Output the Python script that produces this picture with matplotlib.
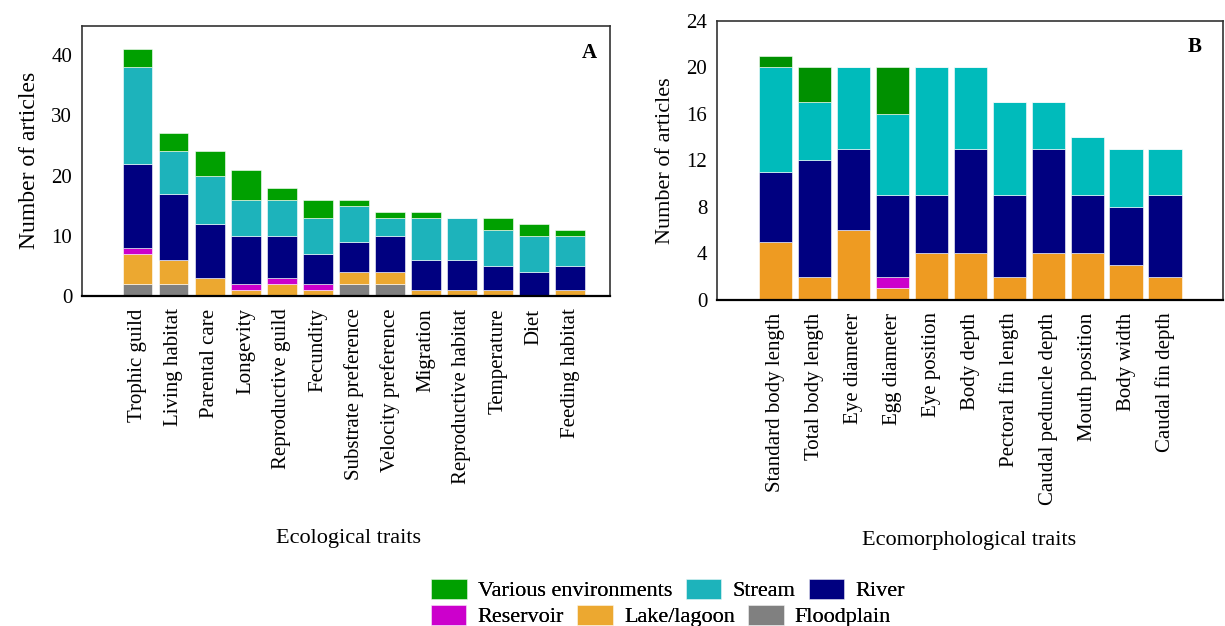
import numpy as np
import matplotlib
matplotlib.use('Agg')
import matplotlib.pyplot as plt
from matplotlib.patches import Patch

plt.rcParams['font.family'] = ['Liberation Serif', 'DejaVu Serif']

# ecological traits (panel A)
traits_a = ['Trophic guild', 'Living habitat', 'Parental care', 'Longevity',
            'Reproductive guild', 'Fecundity', 'Substrate preference',
            'Velocity preference', 'Migration', 'Reproductive habitat',
            'Temperature', 'Diet', 'Feeding habitat']
floodplain_a = [2, 2, 0, 0, 0, 0, 2, 2, 0, 0, 0, 0, 0]
lake_a = [5, 4, 3, 1, 2, 1, 2, 2, 1, 1, 1, 0, 1]
reservoir_a = [1, 0, 0, 1, 1, 1, 0, 0, 0, 0, 0, 0, 0]
river_a = [14, 11, 9, 8, 7, 5, 5, 6, 5, 5, 4, 4, 4]
stream_a = [16, 7, 8, 6, 6, 6, 6, 3, 7, 7, 6, 6, 5]
various_a = [3, 3, 4, 5, 2, 3, 1, 1, 1, 0, 2, 2, 1]

# ecomorphological traits (panel B)
traits_b = ['Standard body length', 'Total body length', 'Eye diameter',
            'Egg diameter', 'Eye position', 'Body depth', 'Pectoral fin length',
            'Caudal peduncle depth', 'Mouth position', 'Body width',
            'Caudal fin depth']
floodplain_b = [0] * 11
lake_b = [5, 2, 6, 1, 4, 4, 2, 4, 4, 3, 2]
reservoir_b = [0, 0, 0, 1, 0, 0, 0, 0, 0, 0, 0]
river_b = [6, 10, 7, 7, 5, 9, 7, 9, 5, 5, 7]
stream_b = [9, 5, 7, 7, 11, 7, 8, 4, 5, 5, 4]
various_b = [1, 3, 0, 4, 0, 0, 0, 0, 0, 0, 0]

envs = ['Floodplain', 'Lake/lagoon', 'Reservoir', 'River', 'Stream', 'Various environments']
cols_a = ['#808080', '#eca830', '#cc00cc', '#000080', '#1db3bb', '#00a000']
cols_b = ['#808080', '#ee9b22', '#cc00cc', '#000080', '#00bbbb', '#009000']

fig = plt.figure(figsize=(12.25, 6.26), dpi=100)
axA = fig.add_axes([0.0669, 0.5272, 0.4311, 0.4318])
axB = fig.add_axes([0.5853, 0.5208, 0.4131, 0.4461])


def stacked(ax, names, series, cols, width):
    x = np.arange(len(names))
    bottom = np.zeros(len(names))
    for vals, c in zip(series, cols):
        vals = np.array(vals, dtype=float)
        ax.bar(x, vals, width, bottom=bottom, color=c, edgecolor='white', linewidth=0.4)
        bottom += vals
    ax.set_xticks(x)
    ax.set_xticklabels(names, rotation=90, va='top', ha='center', fontsize=15)
    ax.tick_params(axis='both', length=0, labelsize=15)
    ax.tick_params(axis='x', pad=9)
    ax.tick_params(axis='y', pad=7)
    for s in ['top', 'left', 'right']:
        ax.spines[s].set_color('#333333')
        ax.spines[s].set_linewidth(1.2)
    ax.spines['bottom'].set_color('black')
    ax.spines['bottom'].set_linewidth(1.6)


stacked(axA, traits_a, [floodplain_a, lake_a, reservoir_a, river_a, stream_a, various_a], cols_a, 0.83)
axA.set_xlim(-1.54, 13.11)
axA.set_ylim(0, 44.9)
axA.set_yticks([0, 10, 20, 30, 40])
axA.set_ylabel('Number of articles', fontsize=17, labelpad=8)
axA.text(0.96, 0.9, 'A', transform=axA.transAxes, fontsize=15, fontweight='bold',
         ha='center', va='center')

stacked(axB, traits_b, [floodplain_b, lake_b, reservoir_b, river_b, stream_b, various_b], cols_b, 0.85)
axB.set_xlim(-1.5, 11.49)
axB.set_ylim(0, 24)
axB.set_yticks(range(0, 25, 4))
axB.set_ylabel('Number of articles', fontsize=16, labelpad=8)
axB.text(0.943, 0.905, 'B', transform=axB.transAxes, fontsize=15, fontweight='bold',
         ha='center', va='center')

fig.text(348 / 1225, 1 - 539 / 626, 'Ecological traits', fontsize=16, ha='center', va='center')
fig.text(969 / 1225, 1 - 541 / 626, 'Ecomorphological traits', fontsize=16, ha='center', va='center')

# two legend rows, each centred on its own
row1 = [('Various environments', cols_a[5]), ('Stream', cols_a[4]), ('River', cols_a[3])]
row2 = [('Reservoir', cols_a[2]), ('Lake/lagoon', cols_a[1]), ('Floodplain', cols_a[0])]
for row, xc, yc in [(row1, 668, 590), (row2, 661, 616)]:
    handles = [Patch(facecolor=c, edgecolor='white', linewidth=0.4, label=n) for n, c in row]
    leg = fig.legend(handles=handles, loc='center', bbox_to_anchor=(xc / 1225, 1 - yc / 626),
                     ncol=3, frameon=False, fontsize=16, handlelength=1.6, handleheight=1.0,
                     handletextpad=0.5, columnspacing=0.6, borderpad=0, borderaxespad=0)
    fig.add_artist(leg)

fig.savefig('out.png', dpi=100)
